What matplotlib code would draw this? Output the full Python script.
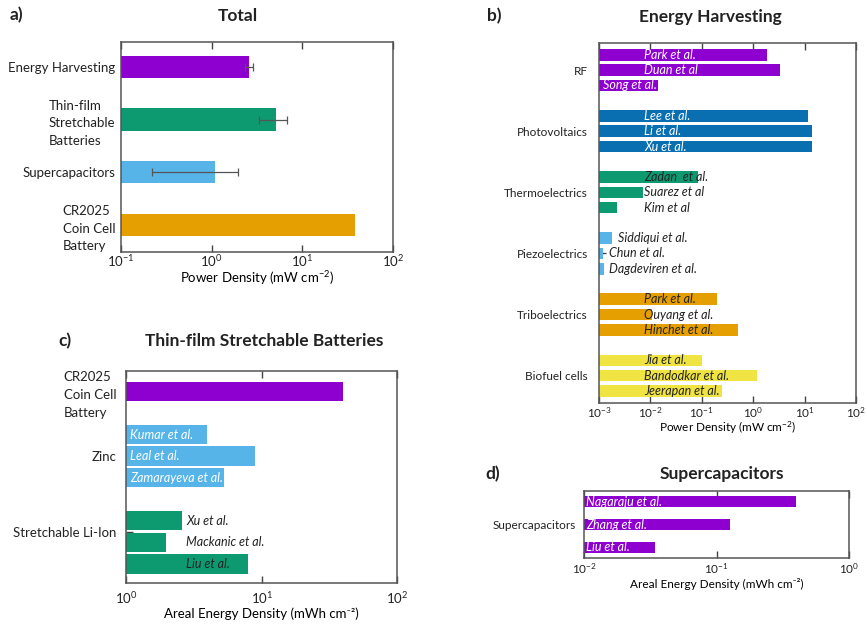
import matplotlib
matplotlib.use('Agg')
import matplotlib.pyplot as plt
import numpy as np

plt.rcParams['font.family'] = ['Lato', 'DejaVu Sans']
plt.rcParams['mathtext.fontset'] = 'custom'
plt.rcParams['mathtext.rm'] = 'Lato'
plt.rcParams['mathtext.it'] = 'Lato:italic'
plt.rcParams['mathtext.bf'] = 'Lato:bold'
plt.rcParams['text.color'] = '#222222'
plt.rcParams['xtick.color'] = '#444444'
plt.rcParams['ytick.color'] = '#444444'
plt.rcParams['xtick.labelcolor'] = '#222222'
plt.rcParams['ytick.labelcolor'] = '#222222'

PURPLE = '#8e00d0'
GREEN = '#0e9a70'
SKY = '#56b4e9'
ORANGE = '#e69f00'
BLUE = '#0a6fb0'
YELLOW = '#f0e442'

# ---- data ----
# a) Total
total_cats = ['Energy Harvesting', 'Thin-film\nStretchable\nBatteries',
              'Supercapacitors', 'CR2025\nCoin Cell\nBattery']
total_vals = [2.59, 5.1, 1.09, 38.5]
total_err = [0.27, 1.75, 0.87, 0.0]

# b) Energy harvesting (mW cm-2)
eh_groups = ['RF', 'Photovoltaics', 'Thermoelectrics', 'Piezoelectrics',
             'Triboelectrics', 'Biofuel cells']
eh_refs = [['Park et al.', 'Duan et al', 'Song et al.'],
           ['Lee et al.', 'Li et al.', 'Xu et al.'],
           ['Zadan  et al.', 'Suarez et al', 'Kim et al'],
           ['Siddiqui et al.', 'Chun et al.', 'Dagdeviren et al.'],
           ['Park et al.', 'Ouyang et al.', 'Hinchet et al.'],
           ['Jia et al.', 'Bandodkar et al.', 'Jeerapan et al.']]
eh_vals = [[1.82, 3.3, 0.0143],
           [11.8, 14.2, 13.8],
           [0.0855, 0.00728, 0.00228],
           [0.00177, 0.00121, 0.00123],
           [0.2, 0.0106, 0.513],
           [0.1, 1.17, 0.25]]

# c) Thin-film stretchable batteries (mWh cm-2)
bat_groups = ['CR2025\nCoin Cell\nBattery', 'Zinc', 'Stretchable Li-Ion']
bat_refs = [[''],
            ['Kumar et al.', 'Leal et al.', 'Zamarayeva et al.'],
            ['Xu et al.', 'Mackanic et al.', 'Liu et al.']]
bat_vals = [[39.5],
            [3.93, 8.93, 5.3],
            [2.59, 1.97, 7.88]]

# d) Supercapacitors (mWh cm-2)
sc_refs = ['Nagaraju et al.', 'Zhang et al.', 'Liu et al.']
sc_vals = [0.396, 0.126, 0.0343]


def style(ax, fs=9, pad=3):
    for s in ax.spines.values():
        s.set_color('#555555')
        s.set_linewidth(1.1)
    ax.set_xscale('log')
    ax.minorticks_off()
    ax.tick_params(axis='x', which='major', direction='in', top=True,
                   bottom=True, length=5, width=1, labelsize=fs, pad=pad)
    ax.tick_params(axis='y', which='major', direction='in', length=5,
                   width=1, labelsize=fs)
    ax.tick_params(which='minor', length=0)
    ax.set_axisbelow(True)


fig = plt.figure(figsize=(8.67, 6.24), dpi=100)
W, H = 867.0, 624.0


def add_axes(x0, y0, x1, y1):
    return fig.add_axes([x0 / W, 1 - y1 / H, (x1 - x0) / W, (y1 - y0) / H])


# ---- a) Total ----
axa = add_axes(121, 42, 393, 252)
style(axa, 9.5, pad=1)
xmin = 0.1
ya = np.arange(len(total_cats))
cols_a = [PURPLE, GREEN, SKY, ORANGE]
axa.barh(ya, np.array(total_vals) - xmin, left=xmin, height=0.42, color=cols_a)
for i, (v, e) in enumerate(zip(total_vals, total_err)):
    if e > 0:
        axa.errorbar(v, i, xerr=e, fmt='none', ecolor='#555555',
                     elinewidth=0.9, capsize=3, capthick=0.9)
axa.set_xlim(0.1, 100)
axa.set_ylim(3.51, -0.47)
axa.set_yticks(ya)
axa.set_yticklabels(total_cats, linespacing=1.55)
for t in axa.get_yticklabels():
    t.set_multialignment('left')
axa.tick_params(axis='y', pad=4, labelsize=9.5)
axa.set_xlabel('Power Density (mW cm$^{-2}$)', fontsize=9.5, labelpad=0)
fig.text(238 / W, 1 - 16 / H, 'Total', ha='center', va='center',
         fontsize=12.5, fontweight='bold')
fig.text(10 / W, 1 - 15 / H, 'a)', ha='left', va='center',
         fontsize=12.5, fontweight='bold')

# ---- b) Energy Harvesting ----
axb = add_axes(599, 42.7, 856, 402.7)
style(axb, 8.5, pad=2)
xmin = 1e-3
cols_b = [PURPLE, BLUE, GREEN, SKY, ORANGE, YELLOW]
txtcol_b = ['white', 'white', '#222222', '#222222', '#222222', '#222222']
label_x_b = [[0.0075, 0.0075, 0.00118],
             [0.0075, 0.0075, 0.0075],
             [0.0075, 0.0075, 0.0075],
             [0.0023, 0.00157, 0.00157],
             [0.0075, 0.0075, 0.0075],
             [0.0075, 0.0075, 0.0075]]
ticks_b = []
for g, (refs, vals) in enumerate(zip(eh_refs, eh_vals)):
    pos = g * 4 + np.arange(3)
    axb.barh(pos, np.array(vals) - xmin, left=xmin, height=0.76,
             color=cols_b[g])
    for p, r, lx in zip(pos, refs, label_x_b[g]):
        axb.text(lx, p, r, ha='left', va='center', style='italic',
                 fontsize=9, color=txtcol_b[g])
    ticks_b.append(pos[1])
axb.set_xlim(1e-3, 100)
axb.set_ylim(22.77, -0.8)
axb.set_yticks(ticks_b)
axb.set_yticklabels(eh_groups)
axb.tick_params(axis='y', pad=8)
axb.set_xlabel('Power Density (mW cm$^{-2}$)', fontsize=8.5, labelpad=0)
fig.text(710 / W, 1 - 17 / H, 'Energy Harvesting', ha='center', va='center',
         fontsize=12.5, fontweight='bold')
fig.text(487 / W, 1 - 16 / H, 'b)', ha='left', va='center',
         fontsize=12.5, fontweight='bold')

# ---- c) Thin-film Stretchable Batteries ----
axc = add_axes(126, 370.7, 397.3, 583.3)
style(axc, 9.5, pad=5)
xmin = 1.0
cols_c = [PURPLE, SKY, GREEN]
txtcol_c = ['white', 'white', '#222222']
label_x_c = [1.07, 1.07, 2.77]
starts_c = [0, 2, 6]
ticks_c = [0, 3, 6.5]
for g, (refs, vals) in enumerate(zip(bat_refs, bat_vals)):
    pos = starts_c[g] + np.arange(len(vals))
    axc.barh(pos, np.array(vals) - xmin, left=xmin, height=0.9,
             color=cols_c[g])
    for p, r in zip(pos, refs):
        axc.text(label_x_c[g], p, r, ha='left', va='center', style='italic',
                 fontsize=9, color=txtcol_c[g])
axc.set_xlim(1, 100)
axc.set_ylim(8.9, -0.96)
axc.set_yticks(ticks_c)
axc.set_yticklabels(bat_groups, linespacing=1.6)
for t in axc.get_yticklabels():
    t.set_multialignment('left')
axc.tick_params(axis='y', pad=7)
axc.set_xlabel('Areal Energy Density (mWh cm⁻²)', fontsize=9.5, labelpad=1)
fig.text(264 / W, 1 - 341 / H, 'Thin-film Stretchable Batteries',
         ha='center', va='center', fontsize=12.5, fontweight='bold')
fig.text(58 / W, 1 - 341 / H, 'c)', ha='left', va='center',
         fontsize=12.5, fontweight='bold')

# ---- d) Supercapacitors ----
axd = add_axes(584, 491, 849.3, 557.7)
style(axd, 8.5)
xmin = 0.01
yd = np.arange(len(sc_vals))
axd.barh(yd, np.array(sc_vals) - xmin, left=xmin, height=0.5, color=PURPLE)
for p, r in zip(yd, sc_refs):
    axd.text(0.01035, p, r, ha='left', va='center', style='italic',
             fontsize=9, color='white')
axd.set_xlim(0.01, 1)
axd.set_ylim(2.46, -0.475)
axd.set_yticks([1])
axd.set_yticklabels(['Supercapacitors'])
axd.tick_params(axis='y', pad=6)
axd.set_xlabel('Areal Energy Density (mWh cm⁻²)', fontsize=8.5, labelpad=1)
fig.text(722 / W, 1 - 474 / H, 'Supercapacitors', ha='center', va='center',
         fontsize=12.5, fontweight='bold')
fig.text(485 / W, 1 - 474 / H, 'd)', ha='left', va='center',
         fontsize=12.5, fontweight='bold')

plt.savefig('out.png', dpi=100)
